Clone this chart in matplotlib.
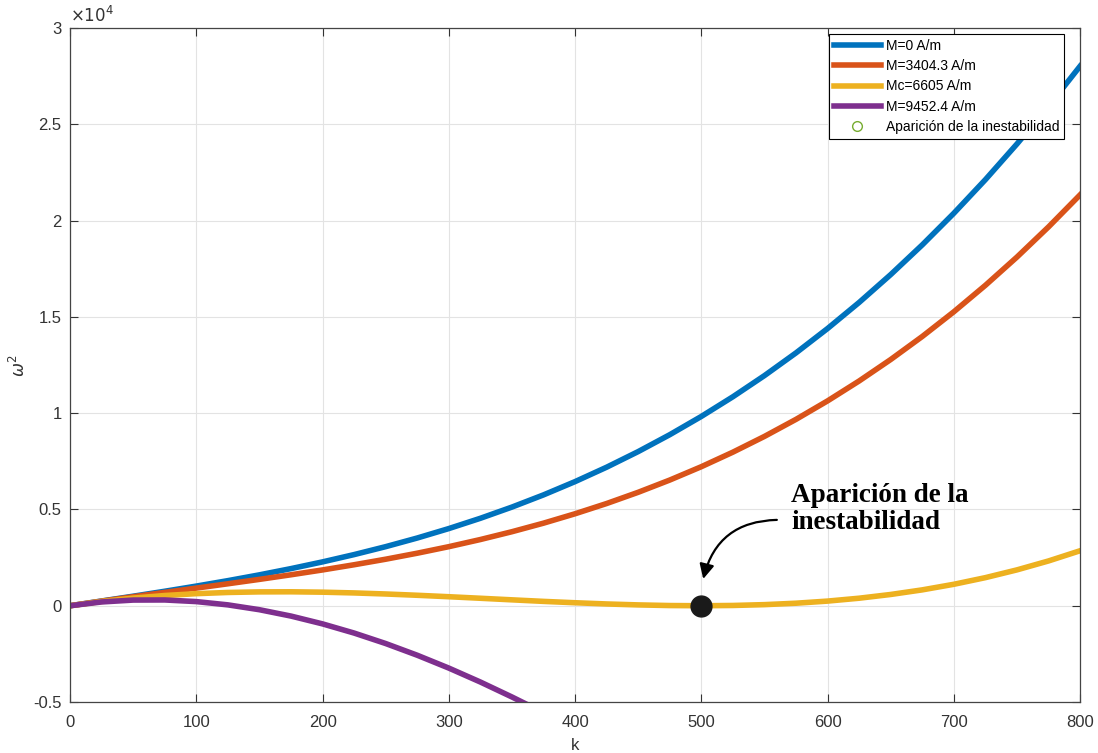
import matplotlib
matplotlib.use("Agg")
import matplotlib.pyplot as plt
from matplotlib.lines import Line2D
from matplotlib.ticker import FuncFormatter

# values (omega^2, raw units)
k = [0, 25, 50, 75, 100, 125, 150, 175, 200, 225, 250, 275, 300, 325, 350, 375,
     400, 425, 450, 475, 500, 525, 550, 575, 600, 625, 650, 675, 700, 725, 750,
     775, 800]
w2_m0 = [0, 246, 495, 752, 1020, 1303, 1604, 1928, 2277, 2656, 3068, 3517,
         4007, 4541, 5123, 5756, 6446, 7194, 8005, 8882, 9830, 10852, 11951,
         13131, 14396, 15750, 17197, 18739, 20381, 22127, 23980, 25943, 28021]
w2_m3404 = [0, 240, 469, 693, 916, 1140, 1369, 1608, 1859, 2128, 2416, 2728,
            3067, 3438, 3844, 4288, 4776, 5308, 5891, 6527, 7220, 7975, 8793,
            9679, 10638, 11672, 12786, 13982, 15265, 16640, 18107, 19673, 21339]
w2_mc = [0, 221, 397, 531, 627, 689, 719, 724, 704, 665, 610, 543, 468, 388,
         306, 226, 155, 92, 43, 10, 0, 14, 57, 131, 241, 391, 585, 824, 1114,
         1459, 1862, 2326, 2856]
k_m9452 = [0, 25, 50, 75, 100, 125, 150, 175, 200, 225, 250, 275, 300, 325,
           350, 360]
w2_m9452 = [0, 196, 294, 299, 215, 45, -207, -537, -943, -1419, -1963, -2571,
            -3238, -3962, -4738, -5063]

labels = ["M=0 A/m", "M=3404.3 A/m", "Mc=6605 A/m", "M=9452.4 A/m"]
colors = ["#0072BD", "#D95319", "#EDB120", "#7E2F8E"]

k_crit = 500
w2_crit = 0

plt.rcParams['font.family'] = ['Liberation Sans', 'DejaVu Sans']

fig = plt.figure(figsize=(10.98, 7.53), dpi=100)
ax = fig.add_axes([0.0638, 0.0677, 0.9199, 0.8951])

ax.plot(k, w2_m0, color=colors[0], lw=4)
ax.plot(k, w2_m3404, color=colors[1], lw=4)
ax.plot(k, w2_mc, color=colors[2], lw=4)
ax.plot(k_m9452, w2_m9452, color=colors[3], lw=4)
ax.plot([k_crit], [w2_crit], 'o', color='#1a1a1a', markersize=15, zorder=5)

ax.set_xlim(0, 800)
ax.set_ylim(-5000, 30000)
ax.set_xticks(range(0, 801, 100))
ax.set_yticks([-5000, 0, 5000, 10000, 15000, 20000, 25000, 30000])
ax.yaxis.set_major_formatter(FuncFormatter(lambda v, p: "%g" % (v / 1e4)))
ax.grid(True, color='#e3e3e3', lw=0.8)
ax.set_axisbelow(True)
ax.tick_params(direction='in', top=True, right=True, labelsize=12,
               colors='#333333', length=6, width=0.8)
ax.tick_params(axis='x', pad=9)
ax.tick_params(axis='y', pad=6)
for s in ax.spines.values():
    s.set_color('#444444')
    s.set_linewidth(0.9)

ax.text(0.0, 1.004, r"$\times10^4$", transform=ax.transAxes, fontsize=12,
        color='#333333', ha='left', va='bottom')
ax.set_xlabel("k", fontsize=12, color='#333333', labelpad=6)
ax.set_ylabel(r"$\omega^2$", fontsize=12, color='#333333', labelpad=4)

# annotation
ax.annotate("", xy=(501, 1250), xytext=(562, 4460),
            arrowprops=dict(arrowstyle='-|>', color='black', lw=1.6,
                            mutation_scale=22,
                            connectionstyle="arc3,rad=0.4"))
ax.text(571, 6380, "Aparición de la\ninestabilidad", fontsize=19.5,
        fontweight='bold', family='Liberation Serif', va='top', ha='left',
        linespacing=1.1)

handles = [Line2D([], [], color=c, lw=4) for c in colors]
handles.append(Line2D([], [], ls='none', marker='o', markerfacecolor='none',
                      markeredgecolor='#77AC30', markersize=7))
leg = ax.legend(handles, labels + ["Aparición de la inestabilidad"],
                loc='upper right', fontsize=10, fancybox=False,
                edgecolor='black', framealpha=1, borderpad=0.35,
                labelspacing=0.45, handlelength=3.4, handletextpad=0.35,
                borderaxespad=0, bbox_to_anchor=(0.9841, 0.9911))
leg.get_frame().set_linewidth(0.8)

fig.savefig("out.png", dpi=100)
